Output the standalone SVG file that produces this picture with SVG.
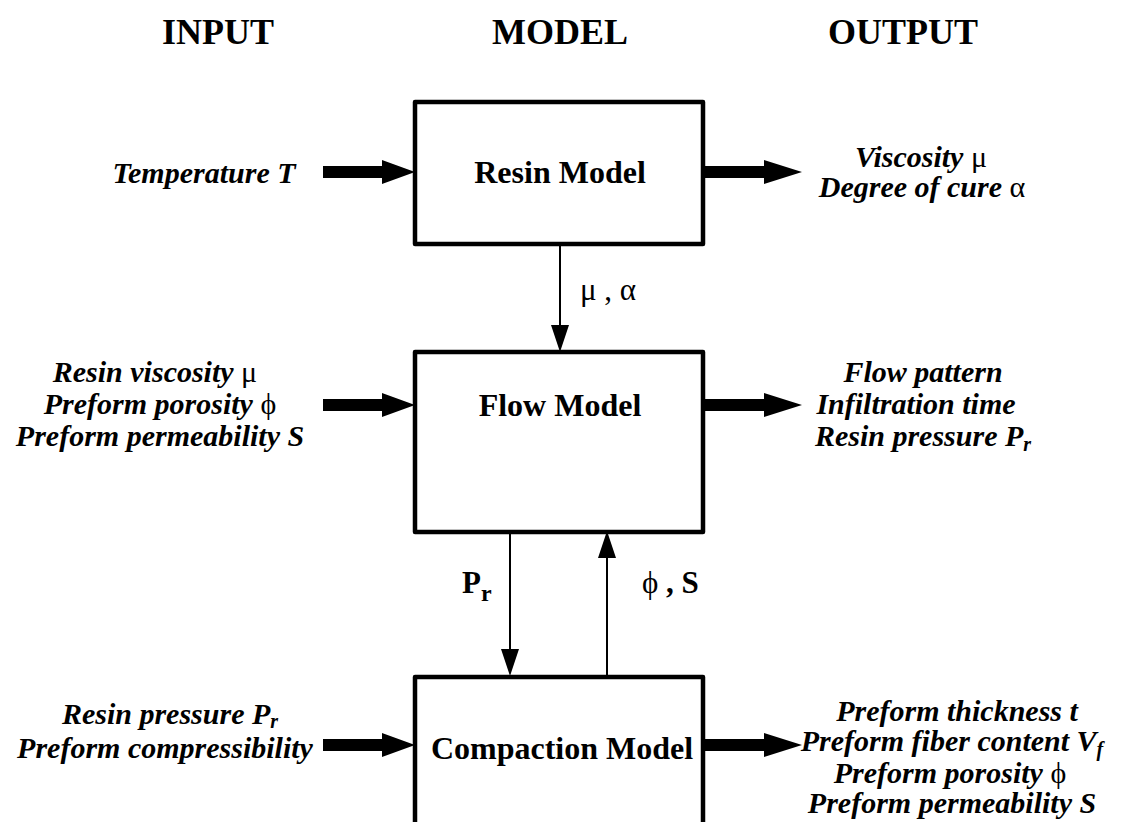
<svg xmlns="http://www.w3.org/2000/svg" width="1131" height="822" viewBox="0 0 1131 822">
<style>
.hdr{font-family:"Liberation Serif","Times New Roman",serif;font-weight:bold;font-size:36px;text-anchor:middle;fill:#000}
.ttl{font-family:"Liberation Serif","Times New Roman",serif;font-weight:bold;font-size:32px;text-anchor:middle;fill:#000}
.lbl{font-family:"Liberation Serif","Times New Roman",serif;font-weight:bold;font-style:italic;font-size:30px;text-anchor:middle;fill:#000}
.mid{font-family:"Liberation Serif","Times New Roman",serif;font-weight:bold;font-size:31px;fill:#000}
.gr{font-family:"Liberation Serif","DejaVu Serif",serif;font-weight:normal;font-style:normal}
.sub{font-size:20px}
.box{fill:#fff;stroke:#000;stroke-width:4.5;stroke-linejoin:round}
.big{fill:#000;stroke:none}
.thin{stroke:#000;stroke-width:2;fill:none}
.head{fill:#000}
</style>
<rect width="1131" height="822" fill="#fff"/>
<g id="headers">
<text class="hdr" x="218" y="44">INPUT</text>
<text class="hdr" x="560" y="44">MODEL</text>
<text class="hdr" x="903" y="44">OUTPUT</text>
</g>
<g id="connectors">
<polygon class="big" points="323,166 382,166 382,160 415,172 382,184 382,178 323,178"/>
<polygon class="big" points="705,166 764,166 764,160 802,172 764,184 764,178 705,178"/>
<polygon class="big" points="323,399 382,399 382,393 415,405 382,417 382,411 323,411"/>
<polygon class="big" points="705,399 764,399 764,393 802,405 764,417 764,411 705,411"/>
<polygon class="big" points="323,739 382,739 382,733 415,745 382,757 382,751 323,751"/>
<polygon class="big" points="705,739 764,739 764,733 802,745 764,757 764,751 705,751"/>
<line class="thin" x1="560" y1="246" x2="560" y2="326"/>
<polygon class="head" points="551,325 569,325 560,352"/>
<line class="thin" x1="510" y1="534" x2="510" y2="650"/>
<polygon class="head" points="501,649 519,649 510,676"/>
<line class="thin" x1="607" y1="677" x2="607" y2="557"/>
<polygon class="head" points="598,558 616,558 607,531"/>
</g>
<g id="resin-model">
<rect class="box" x="415" y="102" width="288" height="142"/>
<text class="ttl" x="560" y="183">Resin Model</text>
</g>
<g id="flow-model">
<rect class="box" x="415" y="352" width="288" height="180"/>
<text class="ttl" x="560" y="416">Flow Model</text>
</g>
<g id="compaction-model">
<rect class="box" x="415" y="677" width="288" height="160"/>
<text class="ttl" x="562" y="759">Compaction Model</text>
</g>
<g id="labels">
<text class="lbl" x="204" y="183">Temperature T</text>
<text class="lbl" x="921" y="167">Viscosity <tspan class="gr">μ</tspan></text>
<text class="lbl" x="922" y="197">Degree of cure <tspan class="gr">α</tspan></text>
<text class="mid" x="580" y="300"><tspan class="gr">μ , α</tspan></text>
<text class="lbl" x="155" y="382">Resin viscosity  <tspan class="gr">μ</tspan></text>
<text class="lbl" x="160" y="414">Preform porosity  <tspan class="gr">ϕ</tspan></text>
<text class="lbl" x="160" y="446">Preform permeability S</text>
<text class="lbl" x="923" y="382">Flow pattern</text>
<text class="lbl" x="916" y="414">Infiltration time</text>
<text class="lbl" x="923" y="446">Resin pressure P<tspan class="sub" dy="5">r</tspan></text>
<text class="mid" x="462" y="593">P<tspan font-size="24" dy="8">r</tspan></text>
<text class="mid" x="642" y="593"><tspan class="gr">ϕ</tspan> , S</text>
<text class="lbl" x="170" y="724">Resin pressure P<tspan class="sub" dy="4">r</tspan></text>
<text class="lbl" x="165" y="758">Preform compressibility</text>
<text class="lbl" x="957" y="721">Preform thickness t</text>
<text class="lbl" x="952" y="751">Preform fiber content V<tspan class="sub" dy="5">f</tspan></text>
<text class="lbl" x="950" y="783">Preform porosity <tspan class="gr">ϕ</tspan></text>
<text class="lbl" x="952" y="813">Preform permeability S</text>
</g>
</svg>
